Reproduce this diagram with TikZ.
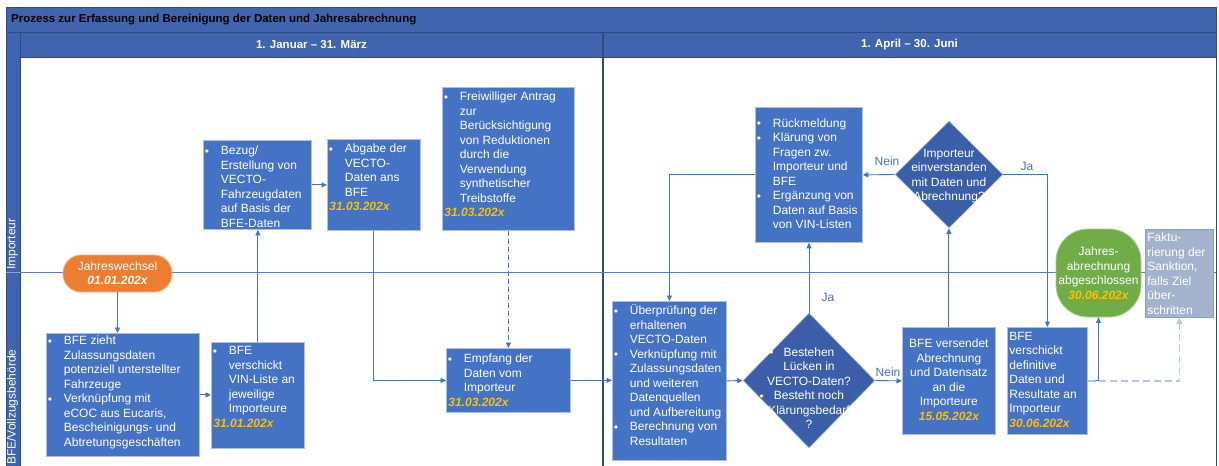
\documentclass[tikz,border=0pt]{standalone}
\usepackage{fontspec}
\setmainfont{Liberation Sans}
\usetikzlibrary{arrows.meta,shapes.geometric}
\definecolor{frameblue}{HTML}{4064AD}
\definecolor{frameline}{HTML}{2E4B88}
\definecolor{boxblue}{HTML}{4472C4}
\definecolor{boxborder}{HTML}{B0BFDD}
\definecolor{diablue}{HTML}{3A5EA7}
\definecolor{connc}{HTML}{4472C4}
\definecolor{lanec}{HTML}{5B7BC0}
\definecolor{dategold}{HTML}{FFC000}
\definecolor{orangeN}{HTML}{ED7D31}
\definecolor{orangeB}{HTML}{F4B183}
\definecolor{greenN}{HTML}{70AD47}
\definecolor{greenB}{HTML}{A9D18E}
\definecolor{greyN}{HTML}{A4B3CD}
\definecolor{greyB}{HTML}{8C9DBD}
\definecolor{lightdash}{HTML}{B4C7E7}
\newcommand{\dt}[1]{{\color{dategold}\bfseries\itshape #1}}
\newcommand{\bul}{\raisebox{1.5pt}{$\scriptstyle\bullet$}}
\newcommand{\bt}[4]{\parbox[c][#2][#3]{#1}{#4}}
\newcommand{\BL}[1]{\begin{tabular}{@{\hspace{1.5pt}}p{16pt}@{}l@{}}#1\end{tabular}}
\begin{document}
\begin{tikzpicture}[x=1pt,y=-1pt,
  box/.style={draw=boxborder, line width=0.8pt, fill=boxblue, text=white, inner sep=0pt, anchor=north west, font=\fontsize{12}{14.5}\selectfont},
  dia/.style={diamond, draw=boxborder, line width=0.6pt, fill=diablue, text=white, inner sep=0pt, font=\fontsize{12}{14.5}\selectfont},
  conn/.style={draw=connc, line width=0.9pt, -{Triangle[length=5.5pt,width=5pt]}},
  lbl/.style={text=connc, font=\fontsize{12}{14.5}\selectfont, inner sep=0pt},
  hdr/.style={text=white, font=\bfseries\fontsize{11.5}{13}\selectfont, inner sep=0pt},
  lanelbl/.style={rotate=90, anchor=west, text=white, font=\fontsize{12}{13}\selectfont, inner sep=0pt}
]
\useasboundingbox (0,0) rectangle (1219,466);
\clip (0,0) rectangle (1219,466);
\fill[white] (0,0) rectangle (1219,466);
% frame
\fill[white] (20,57) rectangle (1216,480);
\filldraw[fill=frameblue, draw=frameline, line width=0.8pt] (6,7) rectangle (1216,32);
\filldraw[fill=frameblue, draw=frameline, line width=0.8pt] (6,32) rectangle (20,480);
\filldraw[fill=frameblue, draw=frameline, line width=0.8pt] (20,32) rectangle (603,57);
\filldraw[fill=frameblue, draw=frameline, line width=0.8pt] (603,32) rectangle (1216,57);
\draw[frameline, line width=0.8pt] (20,57) rectangle (1216,480);
\draw[frameline, line width=1.2pt] (603,32) -- (603,480);
\draw[lanec, line width=0.9pt] (20,272) -- (1216,272);
\draw[lanec!70!white, line width=0.6pt] (6,272) -- (20,272);
\node[anchor=west, font=\bfseries\fontsize{11.5}{13}\selectfont, inner sep=0pt] (title) at (11,20) {Prozess zur Erfassung und Bereinigung der Daten und Jahresabrechnung};
\node[hdr] (h1) at (311.5,45) {1. Januar – 31. März};
\node[hdr] (h2) at (909.5,45) {1. April – 30. Juni};
\node[lanelbl] (lane1) at (12.5,270) {Importeur};
\node[lanelbl] (lane2) at (12.5,465) {BFE/Vollzugsbehörde};

% nodes
\node[draw=orangeB, line width=0.8pt, fill=orangeN, rounded corners=18pt, minimum width=109pt, minimum height=37pt, text=white, align=center, inner sep=0pt, font=\fontsize{12}{14}\selectfont] (J1) at (117.5,273.5) {Jahreswechsel\\{\bfseries\itshape 01.01.202x}};

\node[box] (A) at (46,333) {\bt{153pt}{123pt}{t}{\vspace*{1pt}\BL{%
\bul & BFE zieht\\ & Zulassungsdaten\\ & potenziell unterstellter\\ & Fahrzeuge\\
\bul & Verknüpfung mit\\ & eCOC aus Eucaris,\\ & Bescheinigungs- und\\ & Abtretungsgeschäften}}};

\node[box] (B) at (211,342) {\bt{93pt}{106pt}{t}{\vspace*{2pt}\BL{%
\bul & BFE\\ & verschickt\\ & VIN-Liste an\\ & jeweilige\\ & Importeure\\
\multicolumn{2}{@{\hspace{2pt}}l@{}}{\dt{31.01.202x}}}}};

\node[box] (C) at (203,140) {\bt{108pt}{89pt}{t}{\vspace*{4pt}\BL{%
\bul & Bezug/\\ & Erstellung von\\ & VECTO-\\ & Fahrzeugdaten\\ & auf Basis der\\ & BFE-Daten}}};

\node[box] (D) at (327,139) {\bt{93pt}{91pt}{t}{\vspace*{3pt}\BL{%
\bul & Abgabe der\\ & VECTO-\\ & Daten ans\\ & BFE\\
\multicolumn{2}{@{\hspace{2pt}}l@{}}{\dt{31.03.202x}}}}};

\node[box] (E) at (442,87) {\bt{132pt}{143pt}{t}{\vspace*{3pt}\BL{%
\bul & Freiwilliger Antrag\\ & zur\\ & Berücksichtigung\\ & von Reduktionen\\ & durch die\\ & Verwendung\\ & synthetischer\\ & Treibstoffe\\
\multicolumn{2}{@{\hspace{2pt}}l@{}}{\dt{31.03.202x}}}}};

\node[box] (F) at (446,348) {\bt{124pt}{64pt}{t}{\vspace*{4pt}\BL{%
\bul & Empfang der\\ & Daten vom\\ & Importeur\\
\multicolumn{2}{@{\hspace{2pt}}l@{}}{\dt{31.03.202x}}}}};

\node[box] (G) at (612,301) {\bt{114pt}{159pt}{t}{\vspace*{3pt}\BL{%
\bul & Überprüfung der\\ & erhaltenen\\ & VECTO-Daten\\
\bul & Verknüpfung mit\\ & Zulassungsdaten\\ & und weiteren\\ & Datenquellen\\ & und Aufbereitung\\
\bul & Berechnung von\\ & Resultaten}}};

\node[box] (H) at (755,107) {\bt{107pt}{135pt}{c}{\BL{%
\bul & Rückmeldung\\
\bul & Klärung von\\ & Fragen zw.\\ & Importeur und\\ & BFE\\
\bul & Ergänzung von\\ & Daten auf Basis\\ & von VIN-Listen}}};

\node[box] (I) at (902,327) {\bt{93pt}{107pt}{c}{\centering\begin{tabular}{@{}c@{}}BFE versendet\\Abrechnung\\und Datensatz\\an die\\Importeure\\\dt{15.05.202x}\end{tabular}}};

\node[box] (J) at (1007,327) {\bt{80pt}{107pt}{c}{\begin{tabular}{@{\hspace{2pt}}l@{}}BFE\\verschickt\\definitive\\Daten und\\Resultate an\\Importeur\\\dt{30.06.202x}\end{tabular}}};

\node[draw=greenB, line width=0.8pt, fill=greenN, rounded corners=32pt, minimum width=85pt, minimum height=88pt, inner sep=0pt, text=white, align=center, font=\fontsize{12}{14.5}\selectfont] (K) at (1098.5,273) {Jahres-\\abrechnung\\abgeschlossen\\\dt{30.06.202x}};

\node[box, draw=greyB, fill=greyN] (L) at (1145,229) {\bt{68pt}{88pt}{c}{\vspace*{3pt}\begin{tabular}{@{\hspace{2pt}}l@{}}Faktu-\\rierung der\\Sanktion,\\falls Ziel\\über-\\schritten\end{tabular}}};

\node[dia, minimum width=132pt, minimum height=135pt] (D1) at (809,380.5) {\smash{\makebox[0pt]{\raisebox{-12pt}{\begin{tabular}{@{}c@{}}\llap{\bul\hspace{10pt}}Bestehen\\Lücken in\\VECTO-Daten?\\\llap{\bul\hspace{10pt}}Besteht noch\\Klärungsbedarf\\?\end{tabular}}}}};

\node[dia, minimum width=108pt, minimum height=107pt] (D2) at (949,174.5) {\smash{\makebox[0pt]{\raisebox{-4.5pt}{\begin{tabular}{@{}c@{}}Importeur\\einverstanden\\mit Daten und\\Abrechnung?\end{tabular}}}}};

% connectors
\draw[conn] (J1.south) -- (J1.south |- A.north);
\draw[conn] (A.east) -- (A.east -| B.west);
\draw[conn] (B.north) -- (B.north |- C.south);
\draw[conn] (C.east) -- (D.west);
\draw[conn] (D.south) |- (F.west);
\draw[conn, dash pattern=on 5pt off 3pt] (E.south) -- (F.north);
\draw[conn] (F.east) -- (F.east -| G.west);
\draw[conn] (G.east) -- (D1.west);
\draw[conn] (D1.north) -- (D1.north |- H.south);
\draw[conn] (D1.east) -- (I.west);
\draw[conn] (I.north) -- (I.north |- D2.south);
\draw[conn] (D2.west) -- (H.east);
\draw[conn] (D2.east) -| (J.north);
\draw[conn] (H.west) -| (G.north);
\draw[conn] (J.east) -| (K.south);
\draw[draw=lightdash, line width=1.5pt, dash pattern=on 7pt off 4pt, -{Triangle[length=6pt,width=6pt]}] (J.east) -| (L.south);

% labels
\node[lbl] (ja1) at (828,297) {Ja};
\node[lbl] (nein1) at (888,372) {Nein};
\node[lbl] (nein2) at (887,161) {Nein};
\node[lbl] (ja2) at (1027,166) {Ja};
\end{tikzpicture}
\end{document}
